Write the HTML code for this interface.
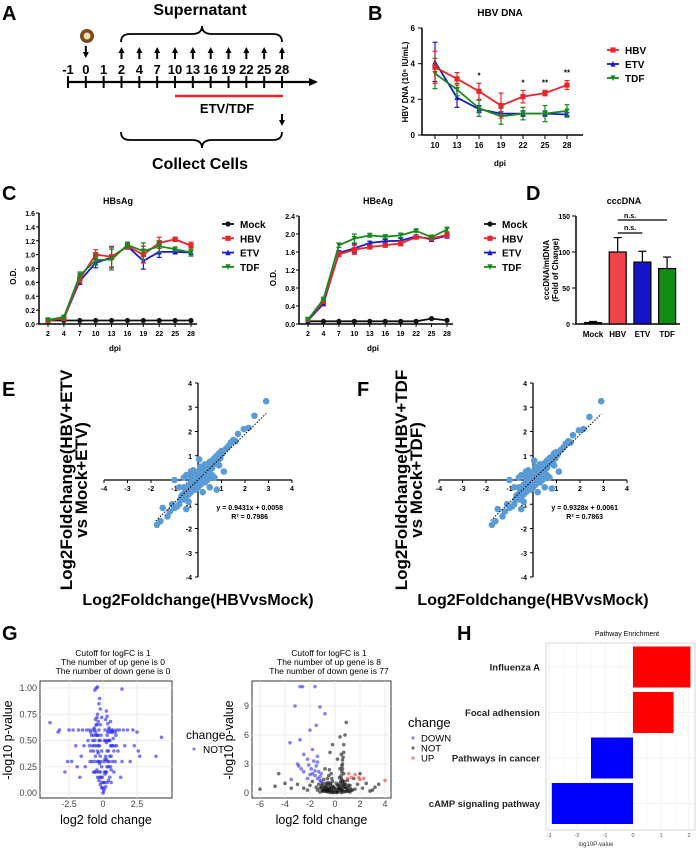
<!DOCTYPE html>
<html><head><meta charset="utf-8"><style>
body{margin:0;background:#fff}
svg{display:block;font-family:"Liberation Sans",sans-serif}
.b{font-weight:bold}
</style></head><body>
<svg id="fig" width="696" height="848" viewBox="0 0 696 848" xmlns="http://www.w3.org/2000/svg">
<g>
<text x="2" y="20" font-size="20" class="b">A</text>
<text x="200" y="15" font-size="16" class="b" text-anchor="middle">Supernatant</text>
<path d="M121,42 Q121,34 130,34 L192,34 Q202,34 202,26 Q202,34 212,34 L273,34 Q282,34 282,42" fill="none" stroke="#000" stroke-width="1.8"/>
<circle cx="87" cy="36" r="7" fill="#7a4a1c"/>
<circle cx="87" cy="36" r="3.5" fill="#f2d9b0"/>
<g id="tl"></g>
<line x1="175" y1="96" x2="283" y2="96" stroke="#e8262a" stroke-width="2.5"/>
<text x="227" y="113" font-size="13" class="b" text-anchor="middle">ETV/TDF</text>
<path d="M121,132 Q121,140 130,140 L192,140 Q202,140 202,148 Q202,140 212,140 L273,140 Q282,140 282,132" fill="none" stroke="#000" stroke-width="1.8"/>
<text x="200" y="169" font-size="16" class="b" text-anchor="middle">Collect Cells</text>
</g>
<g id="pB"></g>
<g id="pC"></g>
<g id="pD"></g>
<g id="pE"></g>
<g id="pF"></g>
<g id="pG"></g>
<g id="pH"></g>
</svg>
<script>
const tlDays=[-1,0,1,2,4,7,10,13,16,19,22,25,28];
const bDays=[10,13,16,19,22,25,28];
const bHBV=[3.8,3.15,2.45,1.65,2.15,2.35,2.8];
const bHBVerr=[0.9,0.35,0.45,0.7,0.35,0.15,0.25];
const bETV=[4.1,2.1,1.45,1.2,1.2,1.2,1.15];
const bETVerr=[1.1,0.55,0.2,0.1,0.15,0.15,0.1];
const bTDF=[3.45,2.55,1.5,1.05,1.2,1.2,1.35];
const bTDFerr=[0.85,0.35,0.45,0.45,0.35,0.45,0.35];
const bStars=["","","*","","*","**","**"];
const bYTicks=[0,2,4,6];
const cDays=[2,4,7,10,13,16,19,22,25,28];
const sMock=[0.05,0.05,0.05,0.05,0.05,0.05,0.05,0.05,0.05,0.05];
const sHBV=[0.05,0.08,0.65,1.0,0.97,1.12,1.0,1.17,1.22,1.13];
const sETV=[0.05,0.08,0.62,0.88,0.96,1.12,0.91,1.04,1.04,1.03];
const sTDF=[0.06,0.1,0.7,0.92,0.93,1.14,1.05,1.12,1.08,1.03];
const sErr=[0.01,0.02,0.05,0.07,0.15,0.04,0.12,0.08,0.03,0.05];
const sYTicks=[0,0.2,0.4,0.6,0.8,1.0,1.2,1.4,1.6];
const eMock=[0.06,0.06,0.06,0.06,0.06,0.06,0.06,0.06,0.12,0.08];
const eHBV=[0.1,0.5,1.55,1.65,1.71,1.75,1.79,1.93,1.9,1.98];
const eETV=[0.08,0.45,1.58,1.68,1.8,1.84,1.85,1.95,1.88,1.96];
const eTDF=[0.1,0.55,1.75,1.9,1.97,1.94,1.97,2.07,1.93,2.1];
const eErr=[0.01,0.03,0.05,0.1,0.04,0.04,0.05,0.03,0.03,0.05];
const eYTicks=[0,0.4,0.8,1.2,1.6,2.0,2.4];
const dCats=["Mock","HBV","ETV","TDF"];
const dVals=[2,100,86,77];
const dErrs=[1.5,20,15,16];
const dColors=["#222","#f0444a","#1414c8","#138a13"];
const dYTicks=[0,50,100,150];
const scE=[[2.9,3.25],[2.4,2.65],[1.95,2.1],[2.15,2.15],[1.7,1.9],[1.5,1.65],[1.6,1.6],[1.4,1.55],[1.3,1.4],[1.2,1.3],[1.0,1.2],[0.9,1.1],[1.05,1.1],[0.8,1.0],[0.7,0.9],[0.6,0.8],[0.5,0.75],[0.4,0.6],[0.3,0.5],[0.2,0.45],[0.1,0.35],[0,0.3],[-0.1,0.3],[-0.2,0.4],[-0.3,0.35],[0.05,0.85],[-0.5,0.2],[-0.6,0.1],[0.5,0.3],[0.6,0.2],[0.7,0.1],[0.4,0.0],[0.3,-0.1],[0.2,0.1],[0.1,-0.2],[0,-0.3],[-0.1,-0.4],[-0.2,-0.2],[-0.3,-0.5],[-0.4,-0.6],[-0.5,-0.7],[-0.6,-0.8],[-0.7,-0.65],[-0.8,-1.0],[-0.9,-1.1],[-1.0,-1.15],[-1.1,-1.0],[-1.2,-1.3],[-1.5,-1.15],[-1.3,-1.5],[-1.6,-1.7],[-1.75,-1.85],[-0.5,-1.2],[-0.4,-0.9],[0.8,-0.4],[0.5,-0.3],[1.1,0.35],[0.9,0.6],[0.6,0.5],[-0.8,-0.3],[-1.0,0.0],[-0.6,-0.3],[0.2,-0.5],[0.0,0.0],[0.1,0.1],[-0.1,0.0],[0.3,0.2],[-0.3,-0.1],[0.15,0.25],[-0.2,-0.05],[0.35,0.35],[-0.35,-0.3],[0.45,0.45],[-0.45,-0.4],[0.25,0.0],[-0.15,0.15],[0.15,-0.1],[0.05,-0.05],[-0.05,0.1],[0.25,0.15],[-0.25,-0.25],[0.4,0.25],[-0.4,-0.2],[0.55,0.55],[-0.55,-0.5],[0.65,0.65],[-0.65,-0.6],[0.75,0.7],[0.85,0.8],[0.95,0.9],[-0.75,-0.8],[0.3,0.65],[-0.2,0.2],[0.5,0.1],[-0.1,-0.2],[0.2,0.3],[0.0,0.15],[-0.3,0.1],[0.45,0.2],[0.1,0.55]];
const scF=[[2.9,3.25],[2.4,2.6],[1.95,2.05],[2.15,2.1],[1.7,1.85],[1.5,1.6],[1.6,1.55],[1.4,1.5],[1.3,1.35],[1.2,1.25],[1.0,1.15],[0.9,1.1],[1.05,1.05],[0.8,0.95],[0.7,0.9],[0.6,0.8],[0.5,0.7],[0.4,0.6],[0.3,0.5],[0.2,0.45],[0.1,0.35],[0,0.3],[-0.1,0.3],[-0.2,0.4],[-0.3,0.35],[0.05,0.8],[-0.5,0.2],[-0.6,0.1],[0.5,0.3],[0.6,0.2],[0.7,0.1],[0.4,0.0],[0.3,-0.1],[0.2,0.1],[0.1,-0.2],[0,-0.3],[-0.1,-0.4],[-0.2,-0.2],[-0.3,-0.5],[-0.4,-0.6],[-0.5,-0.7],[-0.6,-0.8],[-0.7,-0.65],[-0.8,-1.0],[-0.9,-1.1],[-1.0,-1.15],[-1.1,-1.0],[-1.2,-1.3],[-1.5,-1.2],[-1.3,-1.5],[-1.6,-1.7],[-1.75,-1.85],[-0.5,-1.2],[-0.4,-0.9],[0.8,-0.35],[0.5,-0.3],[1.1,0.35],[0.9,0.6],[0.6,0.5],[-0.8,-0.3],[-1.0,0.0],[-0.6,-0.3],[0.2,-0.5],[0.0,0.0],[0.1,0.1],[-0.1,0.0],[0.3,0.2],[-0.3,-0.1],[0.15,0.25],[-0.2,-0.05],[0.35,0.35],[-0.35,-0.3],[0.45,0.45],[-0.45,-0.4],[0.25,0.0],[-0.15,0.15],[0.15,-0.1],[0.05,-0.05],[-0.05,0.1],[0.25,0.15],[-0.25,-0.25],[0.4,0.25],[-0.4,-0.2],[0.55,0.55],[-0.55,-0.5],[0.65,0.65],[-0.65,-0.6],[0.75,0.7],[0.85,0.8],[0.95,0.9],[-0.75,-0.8],[0.3,0.65],[-0.2,0.2],[0.5,0.1],[-0.1,-0.2],[0.2,0.3],[0.0,0.15],[-0.3,0.1],[0.45,0.2],[0.1,0.55]];
const scTicks=[-4,-3,-2,-1,0,1,2,3,4];
const vLeft=[[-0.5,1.0],[-0.4,1.01],[-0.6,0.98],[1.4,0.99],[-0.3,0.85],[-0.2,0.8],[-0.1,0.72],[0.2,0.7],[0.3,0.73],[-3.9,0.67],[-3.2,0.6],[-3.3,0.58],[-2.5,0.6],[-2.2,0.6],[-1.8,0.6],[-1.5,0.6],[-1.2,0.6],[-1.0,0.6],[1.0,0.6],[1.2,0.6],[1.5,0.6],[1.8,0.6],[2.2,0.6],[2.5,0.58],[4.3,0.53],[3.9,0.35],[2.6,0.4],[2.7,0.35],[-2.8,0.2],[-2.6,0.3],[-2.0,0.45],[-1.6,0.35],[-1.3,0.25],[-1.7,0.15],[-1.1,0.5],[-0.9,0.4],[-0.8,0.3],[-0.7,0.2],[-0.6,0.5],[-0.5,0.65],[-0.4,0.4],[-0.3,0.6],[-0.3,0.3],[-0.2,0.5],[-0.2,0.2],[-0.1,0.4],[-0.1,0.1],[0.1,0.3],[0.1,0.1],[0.2,0.5],[0.2,0.2],[0.3,0.4],[0.4,0.6],[0.4,0.25],[0.5,0.5],[0.6,0.35],[0.7,0.45],[0.8,0.2],[0.9,0.3],[1.1,0.4],[1.3,0.15],[1.6,0.45],[2.0,0.3],[-0.05,0.05],[0.05,0.02],[-0.15,0.15],[0.15,0.18],[-0.25,0.28],[0.25,0.32],[-0.35,0.45],[0.35,0.5],[-0.45,0.55],[0.45,0.62],[-0.55,0.7],[0.55,0.68],[-0.65,0.62],[0.65,0.58],[-0.75,0.5],[0.75,0.52],[-0.85,0.55],[0.85,0.45],[-0.95,0.3],[0.95,0.55],[-1.4,0.45],[1.4,0.3],[-2.3,0.3],[2.3,0.45],[-1.9,0.25],[0.3,0.1],[-0.3,0.12],[0.5,0.15],[-0.5,0.2],[0.6,0.1],[-0.6,0.3],[0.0,0.0],[-0.2,0.65],[0.15,0.6],[-0.4,0.75],[0.25,0.78],[-0.25,0.9],[-0.15,0.55],[0.1,0.5]];
const vLeftCore=[[-0.1,0.25],[0.1,0.2],[-0.2,0.35],[0.2,0.35],[-0.3,0.2],[0.3,0.25],[-0.4,0.3],[0.4,0.4],[-0.5,0.45],[0.5,0.35],[-0.7,0.4],[0.7,0.3],[-0.05,0.15],[0.05,0.1],[-0.6,0.6],[0.6,0.6],[-0.8,0.45],[0.8,0.4],[-0.35,0.55],[0.35,0.58],[-0.45,0.65],[0.45,0.5],[-0.25,0.45],[0.25,0.48],[-0.15,0.3],[0.15,0.32],[-0.55,0.35],[0.55,0.25],[-0.65,0.45],[0.65,0.45],[-0.4,0.15],[0.4,0.12],[-0.2,0.08],[0.2,0.06],[-0.3,0.5],[0.3,0.55],[-0.5,0.55],[0.5,0.58],[-0.6,0.2],[0.6,0.22],[-0.7,0.55],[0.7,0.58],[-0.35,0.68],[0.35,0.66],[-0.45,0.72],[-0.55,0.58],[0.55,0.45],[-0.1,0.05],[0.1,0.04],[-0.25,0.15],[0.25,0.2],[-0.35,0.38],[0.35,0.3],[-0.45,0.22],[0.45,0.3],[-0.9,0.58],[0.9,0.58],[-0.75,0.6],[0.75,0.6],[-1.0,0.45],[1.0,0.45]];
const vLeftXTicks=[-2.5,0,2.5];
const vLeftYTicks=[0,0.25,0.5,0.75,1.0];
const vDown=[[-2.8,11],[-2.6,11],[-1.6,11],[-1.2,8.9],[-3.2,9],[-0.8,8.2],[-1.5,7],[-2.0,6.5],[-3.6,5.2],[-2.8,5.5],[-1.8,4.5],[-2.5,4],[-2.2,3.5],[-1.4,3.8],[-3,3],[-2.7,2.5],[-2.5,2.2],[-1.9,2.5],[-1.5,2.8],[-1.3,2.2],[-1.6,1.8],[-2.2,1.5],[-1.2,1.7],[-1.1,2.0],[-1.8,2.0],[-3.5,1.4],[-2.9,2.8],[-1.4,3.2],[-2.1,2.9],[-1.7,3.3],[-1.2,1.3],[-1.4,1.5],[-1.6,2.3],[-2.0,1.9],[-1.1,1.2]];
const vNot=[[-6.0,0.4],[-4.8,0.7],[-4.5,2.0],[-4.0,1.0],[-3.5,0.5],[-3.0,0.9],[-2.5,0.5],[-2.0,0.8],[-1.5,0.6],[-1.0,1.0],[-0.8,0.4],[-0.5,0.3],[-0.3,0.2],[0,0.1],[0.2,0.2],[0.4,0.5],[0.5,1.5],[0.6,3.0],[0.7,5.0],[0.8,6.0],[0.5,4.0],[0.6,2.5],[0.9,7.3],[0.4,5.8],[-0.2,5.0],[-0.4,4.2],[-0.3,2.0],[-0.6,1.5],[-0.8,2.5],[-1.0,0.3],[1.0,0.5],[1.2,0.8],[1.5,1.5],[1.8,0.9],[2.2,0.5],[2.5,1.0],[3.0,0.3],[3.2,0.6],[3.5,0.9],[2.0,2.0],[1.0,1.3],[0.3,0.8],[-0.1,0.6],[-0.2,1.2],[0.1,1.0],[-1.3,0.9],[-0.7,0.7],[0.8,0.6],[1.3,0.3],[-1.8,1.2],[-0.5,1.8],[0.2,3.5],[0.7,2.0],[0.65,3.7],[-0.9,1.4],[1.6,0.4],[-2.2,0.3],[2.8,0.2],[-0.4,0.05],[0.5,0.05],[-1.2,0.1],[1.2,0.1],[0,0.5],[0.9,0.2],[-0.6,0.15],[-0.3,0.6],[0.3,0.4],[-0.7,0.3],[0.7,0.9],[-1.1,0.6],[1.1,0.2],[0.6,1.1],[-0.9,0.2],[0.4,2.5],[0.55,0.3]];
const vNotCore=[[-0.2,0.1],[0.2,0.1],[-0.4,0.2],[0.4,0.2],[-0.6,0.3],[0.6,0.3],[-0.8,0.2],[0.8,0.15],[-1.0,0.2],[1.0,0.2],[-0.3,0.4],[0.3,0.5],[-0.5,0.6],[0.5,0.7],[-0.7,0.5],[0.7,0.6],[-0.9,0.5],[0.9,0.5],[-0.1,0.3],[0.1,0.35],[-0.2,0.7],[0.2,0.8],[-0.4,0.9],[0.4,1.0],[-0.6,0.9],[0.6,1.3],[0.5,1.8],[0.55,2.2],[0.45,1.2],[-0.35,1.0],[-0.55,1.1],[-0.75,1.0],[0.75,1.2],[0.65,0.8],[-1.2,0.5],[1.2,0.5],[-1.4,0.3],[1.4,0.3],[-0.15,0.05],[0.15,0.05],[-0.45,0.45],[0.45,0.45],[-0.65,0.15],[0.65,0.1],[-0.85,0.65],[0.85,0.9],[-1.05,0.8],[1.05,0.8],[0.55,2.8],[0.6,3.4],[0.7,4.2],[-0.25,1.5],[-0.45,2.4],[0.35,1.6]];
const vUp=[[1.0,1.5],[1.3,1.6],[1.6,1.9],[1.9,1.6],[2.0,1.4],[2.3,1.5],[4.0,1.3],[1.1,2.0]];
const vMidXTicks=[-6,-4,-2,0,2,4];
const vMidYTicks=[0,3,6,9];
const hPaths=["Influenza A","Focal adhension","Pathways in cancer","cAMP signaling pathway"];
const hVals=[2.05,1.45,-1.5,-2.9];
const hXTicks=[-3,-2,-1,0,1,2];

const NS="http://www.w3.org/2000/svg";
function mk(tag,attrs,parent){const e=document.createElementNS(NS,tag);for(const k in attrs)e.setAttribute(k,attrs[k]);parent.appendChild(e);return e;}
function txt(parent,x,y,s,size,anchor,extra){const e=mk('text',Object.assign({x:x,y:y,'font-size':size,'text-anchor':anchor||'start'},extra||{}),parent);e.textContent=s;return e;}
function lin(a,b,c,d){return v=>c+(v-a)*(d-c)/(b-a);}

(function(){
 const g=document.getElementById('tl');
 const xs=tlDays.map((d,i)=>68+i*(282-68)/(tlDays.length-1));
 let ax=mk('line',{x1:68,y1:82,x2:312,y2:82,stroke:'#000','stroke-width':2.2},g);
 
 
 let ah=mk('path',{d:'M318,82 L309,78 L309,86 Z',fill:'#000'},g);
 
 
 tlDays.forEach((d,i)=>{
  const x=xs[i];
  const t=mk('line',{x1:x,y1:76,x2:x,y2:88,stroke:'#000','stroke-width':2},g);
  
  
  const l=txt(g,x,74,String(d),13,'middle',{'font-weight':'bold'});
  
  
  if(d>=2){
   const a=mk('path',{d:`M${x},47 L${x-3},53 L${x-1},53 L${x-1},59 L${x+1},59 L${x+1},53 L${x+3},53 Z`,fill:'#000'},g);
   
   
  }
  if(d===0){
   const a=mk('path',{d:`M${x},58 L${x-3},52 L${x-1},52 L${x-1},46 L${x+1},46 L${x+1},52 L${x+3},52 Z`,fill:'#000'},g);
   
   
  }
  if(d===28){
   const a=mk('path',{d:`M${x},126 L${x-3},120 L${x-1},120 L${x-1},114 L${x+1},114 L${x+1},120 L${x+3},120 Z`,fill:'#000'},g);
   
   
  }
 });
})();

function marker(g,x,y,shape,color,r){
 r=r||2.6;let e;
 if(shape==='sq')e=mk('rect',{x:x-r,y:y-r,width:2*r,height:2*r,fill:color},g);
 else if(shape==='tri')e=mk('path',{d:`M${x},${y-r-0.5} L${x-r},${y+r} L${x+r},${y+r} Z`,fill:color},g);
 else if(shape==='dtri')e=mk('path',{d:`M${x},${y+r+0.5} L${x-r},${y-r} L${x+r},${y-r} Z`,fill:color},g);
 else e=mk('circle',{cx:x,cy:y,r:r,fill:color},g);
 return e;
}
function series(g,xs,vals,errs,sx,sy,color,shape,name){
 const s=mk('g',{},g);
 
 
 const pts=vals.map((v,i)=>sx(xs[i])+','+sy(v)).join(' ');
 mk('polyline',{points:pts,fill:'none',stroke:color,'stroke-width':1.8},s);
 vals.forEach((v,i)=>{
  const x=sx(xs[i]);
  if(errs){const e=errs[i];
   mk('line',{x1:x,y1:sy(v+e),x2:x,y2:sy(v-e),stroke:color,'stroke-width':1.2},s);
   mk('line',{x1:x-2.5,y1:sy(v+e),x2:x+2.5,y2:sy(v+e),stroke:color,'stroke-width':1.2},s);
   mk('line',{x1:x-2.5,y1:sy(v-e),x2:x+2.5,y2:sy(v-e),stroke:color,'stroke-width':1.2},s);}
  const m=marker(s,x,sy(v),shape,color);
  
  
 });
}
function legend(g,x,y0,dy,items){
 items.forEach((it,i)=>{
  const y=y0+i*dy;
  const l=mk('g',{},g);
  
  
  mk('line',{x1:x,y1:y,x2:x+12,y2:y,stroke:it[1],'stroke-width':1.8},l);
  marker(l,x+6,y,it[2],it[1]);
  txt(l,x+18,y+4,it[0],10,'start',{'font-weight':'bold'});
 });
}

(function(){
 const g=document.getElementById('pB');
 const lb=txt(g,368,20,'B',20,'start',{'font-weight':'bold'});
 
 
 const t=txt(g,500,16,'HBV DNA',10,'middle',{'font-weight':'bold'});
 
 
 const sx=x=>435+(bDays.indexOf(x))*22, sy=lin(0,6,135,28);
 const ax=mk('path',{d:'M422,28 L422,135 L583,135',fill:'none',stroke:'#000','stroke-width':1.5},g);
 
 
 bYTicks.forEach(v=>{mk('line',{x1:418,y1:sy(v),x2:422,y2:sy(v),stroke:'#000'},g);
  const l=txt(g,415,sy(v)+3,String(v),8,'end',{'font-weight':'bold'});
  
  });
 bDays.forEach(d=>{mk('line',{x1:sx(d),y1:135,x2:sx(d),y2:139,stroke:'#000'},g);
  const l=txt(g,sx(d),148,String(d),8,'middle',{'font-weight':'bold'});
  
  });
 const xt=txt(g,500,166,'dpi',8,'middle',{'font-weight':'bold'});
 
 
 const yt=txt(g,0,0,'HBV DNA (10⁵ IU/mL)',8,'middle',{'font-weight':'bold',transform:'translate(408,82) rotate(-90)'});
 
 
 series(g,bDays,bETV,bETVerr,sx,sy,'#1a1ac8','tri','series-etv-b');
 series(g,bDays,bTDF,bTDFerr,sx,sy,'#168a1a','dtri','series-tdf-b');
 series(g,bDays,bHBV,bHBVerr,sx,sy,'#e8262a','sq','series-hbv-b');
 bStars.forEach((s,i)=>{if(s){const st=txt(g,sx(bDays[i]),sy(Math.max(bHBV[i]+bHBVerr[i],bHBV[i]))-5,s,8,'middle',{'font-weight':'bold'});
  
  }});
 legend(g,607,50,14,[['HBV','#e8262a','sq'],['ETV','#1a1ac8','tri'],['TDF','#168a1a','dtri']]);
})();

function antigenChart(g,x0,x1,y0,yTop,vTop,ticks,mock,hbv,etv,tdf,err,title,tx,dec,nm){
 const sx=d=>x0+9+cDays.indexOf(d)*(x1-x0-9)/9, sy=lin(0,vTop,y0,yTop);
 const t=txt(g,tx,204,title,9,'middle',{'font-weight':'bold'});
 
 
 const ax=mk('path',{d:`M${x0},${yTop} L${x0},${y0} L${x1+6},${y0}`,fill:'none',stroke:'#000','stroke-width':1.5},g);
 
 
 ticks.forEach(v=>{mk('line',{x1:x0-3,y1:sy(v),x2:x0,y2:sy(v),stroke:'#000'},g);
  const l=txt(g,x0-4,sy(v)+3,v.toFixed(1),7,'end',{'font-weight':'bold'});
  
  });
 cDays.forEach(d=>{mk('line',{x1:sx(d),y1:y0,x2:sx(d),y2:y0+3,stroke:'#000'},g);
  const l=txt(g,sx(d),y0+12,String(d),7,'middle',{'font-weight':'bold'});
  
  });
 const xt=txt(g,(x0+x1)/2,351,'dpi',8,'middle',{'font-weight':'bold'});
 
 
 const yt=txt(g,0,0,'O.D.',8,'middle',{'font-weight':'bold',transform:`translate(${x0-23},${(y0+yTop)/2+8}) rotate(-90)`});
 
 
 series(g,cDays,mock,null,sx,sy,'#111','circle','series-mock-'+nm);
 series(g,cDays,etv,err,sx,sy,'#1a1ac8','tri','series-etv-'+nm);
 series(g,cDays,hbv,err,sx,sy,'#e8262a','sq','series-hbv-'+nm);
 series(g,cDays,tdf,err,sx,sy,'#168a1a','dtri','series-tdf-'+nm);
}
(function(){
 const g=document.getElementById('pC');
 const lb=txt(g,2,200,'C',20,'start',{'font-weight':'bold'});
 
 
 antigenChart(g,39,191,324,213,1.6,sYTicks,sMock,sHBV,sETV,sTDF,sErr,'HBsAg',118,1,'hbsag');
 antigenChart(g,299,447,324,216,2.4,eYTicks,eMock,eHBV,eETV,eTDF,eErr,'HBeAg',378,1,'hbeag');
 const items=[['Mock','#111','circle'],['HBV','#e8262a','sq'],['ETV','#1a1ac8','tri'],['TDF','#168a1a','dtri']];
 legend(g,222,224,14.3,items);
 legend(g,484,224,14.3,items);
})();

(function(){
 const g=document.getElementById('pD');
 const lb=txt(g,526,200,'D',20,'start',{'font-weight':'bold'});
 
 
 const t=txt(g,624,204,'cccDNA',9,'middle',{'font-weight':'bold'});
 
 
 const sy=lin(0,150,324,216), sx=i=>593+i*24.7;
 const ax=mk('path',{d:'M576,216 L576,324 L680,324',fill:'none',stroke:'#000','stroke-width':1.5},g);
 
 
 dYTicks.forEach(v=>{mk('line',{x1:572,y1:sy(v),x2:576,y2:sy(v),stroke:'#000'},g);
  const l=txt(g,570,sy(v)+3,String(v),7,'end',{'font-weight':'bold'});
  
  });
 dCats.forEach((c,i)=>{
  const x=sx(i),v=dVals[i],e=dErrs[i];
  const b=mk('rect',{x:x-8.5,y:sy(v),width:17,height:324-sy(v),fill:dColors[i],stroke:'#000','stroke-width':1.2},g);
  
  
  mk('line',{x1:x,y1:sy(v),x2:x,y2:sy(v+e),stroke:'#000','stroke-width':1.2},g);
  mk('line',{x1:x-4,y1:sy(v+e),x2:x+4,y2:sy(v+e),stroke:'#000','stroke-width':1.2},g);
  const l=txt(g,x,337,c,8,'middle',{'font-weight':'bold'});
  
  
 });
 const n1=mk('line',{x1:sx(1),y1:233,x2:sx(2),y2:233,stroke:'#000','stroke-width':1.2},g);
 
 
 const n1t=txt(g,(sx(1)+sx(2))/2,230,'n.s.',7,'middle',{'font-weight':'bold'});
 
 
 const n2=mk('line',{x1:sx(1),y1:220,x2:sx(3),y2:220,stroke:'#000','stroke-width':1.2},g);
 
 
 const n2t=txt(g,(sx(1)+sx(2))/2,218,'n.s.',7,'middle',{'font-weight':'bold'});
 
 
 const yt=txt(g,0,0,'cccDNA/mtDNA',8,'middle',{'font-weight':'bold',transform:'translate(549,270) rotate(-90)'});
 
 
 const yt2=txt(g,0,0,'(Fold of Change)',8,'middle',{'font-weight':'bold',transform:'translate(558,270) rotate(-90)'});
 
 
})();

function scatterPanel(g,cx,pts,label,lx,l1,l2,eq,r2,nm){
 const sx=lin(-4,4,cx-94,cx+94), sy=lin(-4,4,577,383);
 const lb=txt(g,lx,396,label,20,'start',{'font-weight':'bold'});
 
 
 const xa=mk('line',{x1:sx(-4),y1:sy(0),x2:sx(4),y2:sy(0),stroke:'#000','stroke-width':1.3},g);
 
 
 const ya=mk('line',{x1:sx(0),y1:sy(-4),x2:sx(0),y2:sy(4),stroke:'#000','stroke-width':1.3},g);
 
 
 scTicks.forEach(v=>{
  mk('line',{x1:sx(v),y1:sy(0),x2:sx(v),y2:sy(0)+3,stroke:'#000'},g);
  mk('line',{x1:sx(0)-3,y1:sy(v),x2:sx(0),y2:sy(v),stroke:'#000'},g);
  const a=txt(g,sx(v),sy(0)+11,String(v),7,'middle',{'font-weight':'bold'});
  
  
  if(v!==0){const b=txt(g,sx(0)-6,sy(v)+3,String(v),7,'end',{'font-weight':'bold'});
  
  }
 });
 pts.forEach(p=>{const c=mk('circle',{cx:sx(p[0]),cy:sy(p[1]),r:3.3,fill:'#5b9bd5'},g);
  
  });
 const tr=mk('line',{x1:sx(-1.8),y1:sy(-1.8*eq+0.006),x2:sx(2.9),y2:sy(2.9*eq+0.006),stroke:'#000','stroke-width':1,'stroke-dasharray':'1.5,1.5'},g);
 
 
 const e1=txt(g,sx(2.2),510,'y = '+eq+'x + 0.00'+(nm==='e'?'58':'61'),7,'middle',{'font-weight':'bold'});
 
 
 const e2=txt(g,sx(2.2),519,'R² = '+r2,7,'middle',{'font-weight':'bold'});
 
 
 const y1=txt(g,0,0,l1,17,'middle',{'font-weight':'bold',transform:`translate(${cx-126},480) rotate(-90)`});
 
 
 const y2=txt(g,0,0,l2,17,'middle',{'font-weight':'bold',transform:`translate(${cx-111},480) rotate(-90)`});
 
 
 const xt=txt(g,cx,605,'Log2Foldchange(HBVvsMock)',16,'middle',{'font-weight':'bold'});
 
 
}
scatterPanel(document.getElementById('pE'),198,scE,'E',2,'Log2Foldchange(HBV+ETV','vs Mock+ETV)',0.9431,'0.7986','e');
scatterPanel(document.getElementById('pF'),533,scF,'F',357,'Log2Foldchange(HBV+TDF','vs Mock+TDF)',0.9328,'0.7863','f');

function volcano(g,bx0,bx1,sx,sy,xt,yt,groups,titleX,lines,nm,ytx){
 const by0=681,by1=798;
 const bg=mk('rect',{x:bx0,y:by0,width:bx1-bx0,height:by1-by0,fill:'#fff',stroke:'#333','stroke-width':1},g);
 
 
 xt.forEach(v=>{mk('line',{x1:sx(v),y1:by0,x2:sx(v),y2:by1,stroke:'#e6e6e6','stroke-width':0.8},g);
  const l=txt(g,sx(v),807,String(v),9,'middle',{fill:'#444'});
  
  });
 yt.forEach(v=>{mk('line',{x1:bx0,y1:sy(v),x2:bx1,y2:sy(v),stroke:'#e6e6e6','stroke-width':0.8},g);
  const l=txt(g,bx0-3,sy(v)+3,nm==='g1'?v.toFixed(2):String(v),9,'end',{fill:'#444'});
  
  });
 groups.forEach(gr=>gr[0].forEach(p=>{const c=mk('circle',{cx:sx(p[0]),cy:sy(p[1]),r:1.8,fill:gr[1],'fill-opacity':0.6},g);
  
  }));
 lines.forEach((s,i)=>{const l=txt(g,titleX,656+i*9,s,8.5,'middle');
  
  });
 const x=txt(g,(bx0+bx1)/2,824,'log2 fold change',12.5,'middle');
 
 
 const y=txt(g,0,0,'-log10 p-value',12.5,'middle',{transform:`translate(${ytx},740) rotate(-90)`});
 
 
}
(function(){
 const g=document.getElementById('pG');
 const lb=txt(g,2,640,'G',20,'start',{'font-weight':'bold'});
 
 
 volcano(g,40,172,lin(0,2.5,103,137),lin(0,1,793,688),vLeftXTicks,vLeftYTicks,[[vLeft,'#2222ee','not'],[vLeftCore,'#2222ee','not']],113,
  ['Cutoff for logFC is 1','The number of up gene is 0','The number of down gene is 0'],'g1',12);
 volcano(g,252,391,lin(-6,4,260,385),lin(0,9,793,706),vMidXTicks,vMidYTicks,[[vNot,'#111','not'],[vNotCore,'#111','not'],[vDown,'#3333ee','down'],[vUp,'#ee3333','up']],329,
  ['Cutoff for logFC is 1','The number of up gene is 8','The number of down gene is 77'],'g2',233);
 const l1=txt(g,186,739,'change',12,'start');
 
 
 mk('circle',{cx:194,cy:749,r:1.6,fill:'#3333ee','fill-opacity':0.6},g);
 const n=txt(g,203,753,'NOT',10,'start');
 
 
 const l2=txt(g,408,727,'change',13,'start');
 
 
 [['DOWN','#3333ee'],['NOT','#111'],['UP','#ee3333']].forEach((it,i)=>{
  mk('circle',{cx:413,cy:738+i*10,r:1.6,fill:it[1],'fill-opacity':0.6},g);
  const t=txt(g,421,741.5+i*10,it[0],9.5,'start');
  
  
 });
})();

(function(){
 const g=document.getElementById('pH');
 const lb=txt(g,457,640,'H',20,'start',{'font-weight':'bold'});
 
 
 const t=txt(g,627,636,'Pathway Enrichment',7,'middle');
 
 
 const sx=lin(0,2,633,689);
 const bx0=546,bx1=695,by0=643,by1=830;
 const box=mk('rect',{x:bx0,y:by0,width:bx1-bx0,height:by1-by0,fill:'#fff',stroke:'#ccc','stroke-width':0.8},g);
 
 
 hXTicks.forEach(v=>{mk('line',{x1:sx(v),y1:by0,x2:sx(v),y2:by1,stroke:'#ececec','stroke-width':0.8},g);
  mk('line',{x1:sx(v+0.5),y1:by0,x2:sx(v+0.5),y2:by1,stroke:'#f4f4f4','stroke-width':0.6},g);
  const l=txt(g,sx(v),837,String(v),5.5,'middle',{fill:'#555'});
  
  });
 const bandH=45.5;
 hPaths.forEach((p,i)=>{
  const cy=667+i*bandH, v=hVals[i];
  mk('line',{x1:bx0,y1:cy,x2:bx1,y2:cy,stroke:'#ececec','stroke-width':0.8},g);
  const r=mk('rect',{x:Math.min(sx(0),sx(v)),y:cy-20.5,width:Math.abs(sx(v)-sx(0)),height:41,fill:v>0?'#ff0000':'#0000ff'},g);
  
  
  const l=txt(g,540,cy+3.5,p,9.5,'end',{'font-weight':'bold',fill:'#222'});
  
  
 });
 const xt=txt(g,596,846,'log10P-value',6,'middle',{fill:'#333'});
 
 
})();
</script>
</body></html>
